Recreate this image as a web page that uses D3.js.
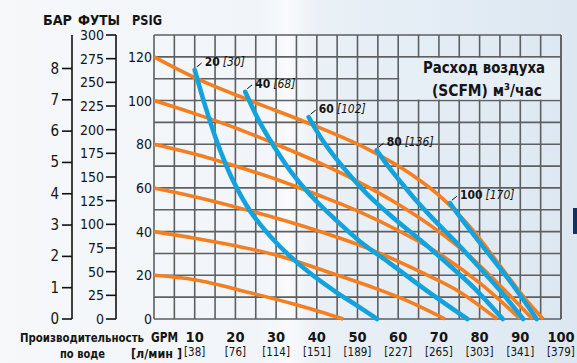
<!DOCTYPE html>
<html>
<head>
<meta charset="utf-8">
<script src="https://cdn.jsdelivr.net/npm/d3@7"></script>
<style>
  html, body { margin: 0; padding: 0; background: #f4f7fa; }
  svg { display: block; }
  text { font-family: "DejaVu Sans Condensed", "DejaVu Sans", sans-serif; fill: #141414; }
</style>
</head>
<body>
<svg id="chart" width="577" height="363"></svg>
<script>
// Flow axis (GPM) and its l/min equivalents
const gpmTicks = [10, 20, 30, 40, 50, 60, 70, 80, 90, 100];
const lpmLabels = ["[38]", "[76]", "[114]", "[151]", "[189]", "[227]", "[265]", "[303]", "[341]", "[379]"];

// Discharge pressure axes
const psigTicks = [0, 20, 40, 60, 80, 100, 120];
const feetTicks = [0, 25, 50, 75, 100, 125, 150, 175, 200, 225, 250, 275, 300];
const barTicks = [0, 1, 2, 3, 4, 5, 6, 7, 8];
const barTop = 9.07;     // bar value at the top of the pressure range (130 PSIG)

// Constant air-inlet-pressure curves: [GPM, PSIG]
const press120 = [[0, 120], [10, 110.5], [23.6, 100], [38, 89.6], [53, 77.3], [63, 66.5], [71, 55], [78.4, 40.5], [85, 24.5], [90.7, 10.5], [95.6, 0]];
const press100 = [[0, 100], [10, 94], [20, 87.5], [30, 80], [40, 72], [50, 63], [60, 52.5], [70, 40], [78, 28], [86, 13.5], [93, 0]];
const press80  = [[0, 80], [10, 75.5], [20, 70], [30, 64], [40, 57], [50, 49.5], [60, 40.5], [70, 30], [80, 16.5], [90, 0]];
const press60  = [[0, 60], [10, 56], [23.6, 49.5], [40, 40.5], [53, 32], [65, 22], [75, 12.5], [84.3, 0]];
const press40  = [[0, 40], [10, 37], [20, 33.5], [30, 29.3], [42, 22], [53, 15], [62, 8.5], [71.5, 0]];
const press20  = [[0, 20], [10, 18], [23.6, 12], [35, 6.5], [46.5, 0]];

// Constant air-consumption curves: [GPM, PSIG]
const air20  = [[10, 114], [12.5, 98], [15.5, 81], [19, 65], [23.6, 49.5], [28.5, 38], [33.4, 28.8], [39, 20], [45, 12], [50, 6], [54.8, 0]];
const air40  = [[22.4, 104], [26, 90], [30, 77.5], [34, 66.5], [38.3, 57], [44, 46.5], [50.6, 35.5], [58, 25.5], [67, 13], [77, 0]];
const air60  = [[38, 92.4], [41, 83], [44.5, 74], [48.5, 65], [53, 56], [59, 46], [65.5, 36], [72, 25.5], [78.5, 14.5], [85.7, 0]];
const air80  = [[54.7, 77.3], [57.5, 70], [60.5, 63], [63.6, 56], [68, 47], [74, 35.5], [80, 23.5], [85.5, 12], [90.7, 0]];
const air100 = [[72.7, 53], [75.5, 46], [79, 37.5], [83, 28], [87, 18.5], [90.5, 9.5], [94, 0]];

const airLabels = [
  { scfm: "20", m3h: "[30]", curve: air20 },
  { scfm: "40", m3h: "[68]", curve: air40 },
  { scfm: "60", m3h: "[102]", curve: air60 },
  { scfm: "80", m3h: "[136]", curve: air80 },
  { scfm: "100", m3h: "[170]", curve: air100 }
];
const pressureCurves = [press120, press100, press80, press60, press40, press20];
const airCurves = [air20, air40, air60, air80, air100];

const svg = d3.select("#chart");
const W = 577, H = 363;

// Background wash
const defs = svg.append("defs");
const bg = defs.append("linearGradient").attr("id", "bg").attr("x1", 0).attr("x2", 1).attr("y1", 0).attr("y2", 0);
[["0%", "#f6f8fa"], ["45%", "#f1f5f9"], ["50%", "#f8fafc"], ["55%", "#eaf0f6"], ["75%", "#e4edf5"], ["100%", "#dde7f1"]]
  .forEach(([o, c]) => bg.append("stop").attr("offset", o).attr("stop-color", c));
svg.append("rect").attr("width", W).attr("height", H).attr("fill", "url(#bg)");
svg.append("rect").attr("x", 573).attr("y", 208).attr("width", 4).attr("height", 26).attr("fill", "#16325c");

const x = d3.scaleLinear().domain([0, 100]).range([154, 561]);
const y = d3.scaleLinear().domain([0, 130]).range([319, 35]);
const yFeet = d3.scaleLinear().domain([0, 300]).range([319, 35]);
const yBar = d3.scaleLinear().domain([0, barTop]).range([319, 35]);

// Grid
const grid = svg.append("g").attr("stroke", "#5d5f61").attr("stroke-width", 1.6);
grid.selectAll("line.v").data(d3.range(0, 101, 5)).join("line").attr("class", "v")
  .attr("x1", d => x(d)).attr("x2", d => x(d)).attr("y1", y(130)).attr("y2", y(0));
grid.selectAll("line.h").data(d3.range(0, 131, 10)).join("line").attr("class", "h")
  .attr("x1", x(0)).attr("x2", x(100)).attr("y1", d => y(d)).attr("y2", d => y(d));

// Legend panel clears the grid behind the title
svg.append("rect").attr("x", x(60) + 1).attr("y", y(120) + 1)
  .attr("width", x(100) - x(60) - 2).attr("height", y(100) - y(120) - 2)
  .attr("fill", "#e6eef6");
svg.append("line").attr("x1", x(100)).attr("x2", x(100)).attr("y1", y(130)).attr("y2", y(0))
  .attr("stroke", "#5d5f61").attr("stroke-width", 1.6);

const pressLine = d3.line().x(d => x(d[0])).y(d => y(d[1])).curve(d3.curveMonotoneX);
const airLine = d3.line().x(d => x(d[0])).y(d => y(d[1])).curve(d3.curveCatmullRom.alpha(0.5));

svg.append("g").selectAll("path").data(pressureCurves).join("path")
  .attr("d", pressLine).attr("fill", "none").attr("stroke", "#f47f20")
  .attr("stroke-width", 3.6).attr("stroke-linecap", "butt");

svg.append("g").selectAll("path").data(airCurves).join("path")
  .attr("d", airLine).attr("fill", "none").attr("stroke", "#14a2dc")
  .attr("stroke-width", 4.6).attr("stroke-linecap", "round");

// Air consumption labels with leader ticks
const lab = svg.append("g").selectAll("g").data(airLabels).join("g")
  .attr("transform", d => `translate(${x(d.curve[0][0])},${y(d.curve[0][1])})`);
lab.append("line").attr("x1", 2).attr("y1", -3).attr("x2", 7).attr("y2", -7)
  .attr("stroke", "#111").attr("stroke-width", 1);
const lt = lab.append("text").attr("x", 10).attr("y", -4).attr("font-size", 12);
lt.append("tspan").attr("font-weight", "bold").text(d => d.scfm);
lt.append("tspan").attr("font-style", "italic").attr("dx", 3).text(d => d.m3h);

// Legend title
svg.append("text").attr("x", 423).attr("y", 73)
  .attr("font-size", 16.5).attr("font-weight", "bold")
  .attr("textLength", 122).attr("lengthAdjust", "spacingAndGlyphs")
  .text("Расход воздуха");
svg.append("text").attr("x", 432).attr("y", 96)
  .attr("font-size", 16.5).attr("font-weight", "bold")
  .attr("textLength", 110).attr("lengthAdjust", "spacingAndGlyphs")
  .text("(SCFM) м³/час");

// PSIG labels
svg.append("g").selectAll("text").data(psigTicks).join("text")
  .attr("x", 152).attr("y", d => y(d) + 5).attr("text-anchor", "end").attr("font-size", 14)
  .text(d => d);

// Feet axis
const fa = svg.append("g").attr("stroke", "#111").attr("stroke-width", 1.6);
fa.append("line").attr("x1", 116).attr("x2", 116).attr("y1", yFeet(300)).attr("y2", yFeet(0));
fa.selectAll("line.t").data(feetTicks).join("line").attr("class", "t")
  .attr("x1", 106).attr("x2", 116).attr("y1", d => yFeet(d)).attr("y2", d => yFeet(d));
svg.append("g").selectAll("text").data(feetTicks).join("text")
  .attr("x", 104).attr("y", d => yFeet(d) + 5).attr("text-anchor", "end").attr("font-size", 14)
  .text(d => d);

// Bar axis
const ba = svg.append("g").attr("stroke", "#111").attr("stroke-width", 1.6);
ba.append("line").attr("x1", 72).attr("x2", 72).attr("y1", yBar(barTop)).attr("y2", yBar(0));
ba.selectAll("line.t").data(barTicks).join("line").attr("class", "t")
  .attr("x1", 62).attr("x2", 72).attr("y1", d => yBar(d)).attr("y2", d => yBar(d));
svg.append("g").selectAll("text").data(barTicks).join("text")
  .attr("x", 59).attr("y", d => yBar(d) + 5).attr("text-anchor", "end").attr("font-size", 15)
  .text(d => d);

// Axis headers
[["БАР", 43, 29], ["ФУТЫ", 78, 42], ["PSIG", 132, 30]].forEach(([t, x0, w]) => {
  svg.append("text").attr("x", x0).attr("y", 25)
    .attr("font-size", 14.5).attr("font-weight", "bold")
    .attr("textLength", w).attr("lengthAdjust", "spacingAndGlyphs").text(t);
});

// Flow axis labels
svg.append("g").selectAll("text").data(gpmTicks).join("text")
  .attr("x", d => x(d)).attr("y", 342).attr("text-anchor", "middle")
  .attr("font-size", 14.5).attr("font-weight", "bold").text(d => d);
svg.append("g").selectAll("text").data(lpmLabels).join("text")
  .attr("x", (d, i) => x(gpmTicks[i])).attr("y", 356).attr("text-anchor", "middle")
  .attr("font-size", 11.5).text(d => d);
svg.append("text").attr("x", 151).attr("y", 342)
  .attr("font-size", 14.5).attr("font-weight", "bold")
  .attr("textLength", 27).attr("lengthAdjust", "spacingAndGlyphs").text("GPM");
svg.append("text").attr("x", 131).attr("y", 358)
  .attr("font-size", 12.5).attr("font-weight", "bold")
  .attr("textLength", 51).attr("lengthAdjust", "spacingAndGlyphs").text("[л/мин ]");
svg.append("text").attr("x", 20).attr("y", 342)
  .attr("font-size", 12).attr("font-weight", "bold")
  .attr("textLength", 124).attr("lengthAdjust", "spacingAndGlyphs")
  .text("Производительность");
svg.append("text").attr("x", 60).attr("y", 358)
  .attr("font-size", 13).attr("font-weight", "bold")
  .attr("textLength", 45).attr("lengthAdjust", "spacingAndGlyphs")
  .text("по воде");
</script>
</body>
</html>
